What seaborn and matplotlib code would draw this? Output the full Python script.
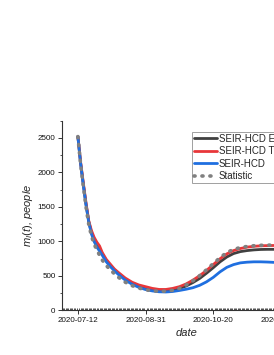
import matplotlib
matplotlib.use("Agg")
import matplotlib.pyplot as plt
import matplotlib.dates as mdates
from matplotlib.ticker import MultipleLocator, FixedLocator
import numpy as np
import pandas as pd
import seaborn as sns

# ---- data ----
start_date = "2020-07-12"
days = [0, 2, 4, 6, 8, 10, 12, 14, 16, 18, 21, 24, 27, 30, 35, 40, 45, 50, 55,
        60, 65, 70, 75, 80, 85, 90, 95, 100, 105, 110, 115, 120, 125, 130, 135,
        140, 145, 150, 155]
seir_e = [2520, 2140, 1830, 1540, 1290, 1130, 1020, 940, 880, 820, 720, 650, 590,
          535, 455, 395, 355, 325, 305, 292, 290, 300, 320, 355, 405, 465, 540,
          620, 705, 775, 825, 853, 868, 878, 884, 886, 886, 885, 884]
seir_t = [2520, 2150, 1850, 1560, 1300, 1160, 1060, 990, 935, 840, 740, 670, 600,
          550, 470, 410, 370, 345, 320, 305, 305, 320, 345, 385, 440, 505, 580,
          665, 750, 820, 868, 898, 918, 930, 937, 940, 942, 942, 941]
seir = [2520, 2130, 1820, 1530, 1280, 1110, 1000, 920, 860, 800, 705, 635, 575,
        520, 440, 380, 335, 303, 283, 271, 268, 275, 290, 308, 330, 365, 415,
        480, 560, 625, 665, 690, 700, 705, 705, 702, 697, 690, 685]
statistic = [2520, 2120, 1800, 1500, 1250, 1080, 960, 880, 800, 730, 650, 590, 530,
             480, 410, 360, 325, 300, 285, 278, 280, 292, 320, 370, 430, 505, 590,
             680, 765, 840, 885, 912, 928, 938, 944, 947, 947, 945, 943]
series_labels = ["SEIR-HCD EnKF", "SEIR-HCD TT", "SEIR-HCD", "Statistic"]
xtick_labels = ["2020-07-12", "2020-08-31", "2020-10-20", "2020-12-09"]
yticks = [0, 500, 1000, 1500, 2000, 2500]

dates = pd.to_datetime(start_date) + pd.to_timedelta(days, unit="D")
df = pd.DataFrame({"date": dates, "e": seir_e, "t": seir_t, "s": seir, "stat": statistic})

# ---- style ----
sns.set_theme(style="ticks")
plt.rcParams["font.family"] = ["Liberation Sans", "DejaVu Sans"]
plt.rcParams["mathtext.fontset"] = "custom"
plt.rcParams["mathtext.it"] = "Liberation Sans:italic"
plt.rcParams["mathtext.rm"] = "Liberation Sans"

fig = plt.figure(figsize=(2.74, 3.55), dpi=100)
ax = fig.add_axes([0.225, 0.1254, 0.914, 0.5346])

sns.lineplot(data=df, x="date", y="e", ax=ax, color="#404040", lw=2.0, label=series_labels[0])
sns.lineplot(data=df, x="date", y="t", ax=ax, color="#e8373a", lw=2.0, label=series_labels[1])
sns.lineplot(data=df, x="date", y="s", ax=ax, color="#1f6fe0", lw=2.0, label=series_labels[2])
sns.lineplot(data=df, x="date", y="stat", ax=ax, color="#808080", lw=2.6,
             linestyle=(0, (0.3, 1.9)), dash_capstyle="round", label=series_labels[3])

ax.set_xlim(pd.Timestamp("2020-06-30"), pd.Timestamp("2021-01-01"))
ax.set_ylim(0, 2750)

ax.xaxis.set_major_locator(FixedLocator(mdates.date2num(pd.to_datetime(xtick_labels))))
ax.xaxis.set_major_formatter(mdates.DateFormatter("%Y-%m-%d"))
ax.xaxis.set_minor_locator(mdates.DayLocator())
ax.set_yticks(yticks)
ax.yaxis.set_minor_locator(MultipleLocator(250))

ax.tick_params(axis="both", which="major", labelsize=5.8, length=3, width=0.7,
               color="#333333", pad=1.5, labelcolor="#111111")
ax.tick_params(axis="y", which="minor", length=1.6, width=0.6, color="#333333")
ax.tick_params(axis="x", which="minor", direction="in", length=1.8, width=0.6, color="#333333")

for side in ["top", "right"]:
    ax.spines[side].set_visible(False)
for side in ["left", "bottom"]:
    ax.spines[side].set_linewidth(0.8)
    ax.spines[side].set_color("#333333")

ax.set_xlabel("date", fontsize=8, style="italic", labelpad=3)
ax.set_ylabel(r"$m_I(t)$, people", fontsize=8, style="italic", labelpad=2)

leg = ax.legend(loc="upper left", bbox_to_anchor=(0.702, 0.627),
                bbox_transform=fig.transFigure, fontsize=7, frameon=True,
                fancybox=False, borderpad=0.15, borderaxespad=0,
                handlelength=2.4, handletextpad=0.15, labelspacing=0.25)
leg.get_frame().set_edgecolor("#888888")
leg.get_frame().set_linewidth(0.7)

fig.savefig("out.png", dpi=100)
